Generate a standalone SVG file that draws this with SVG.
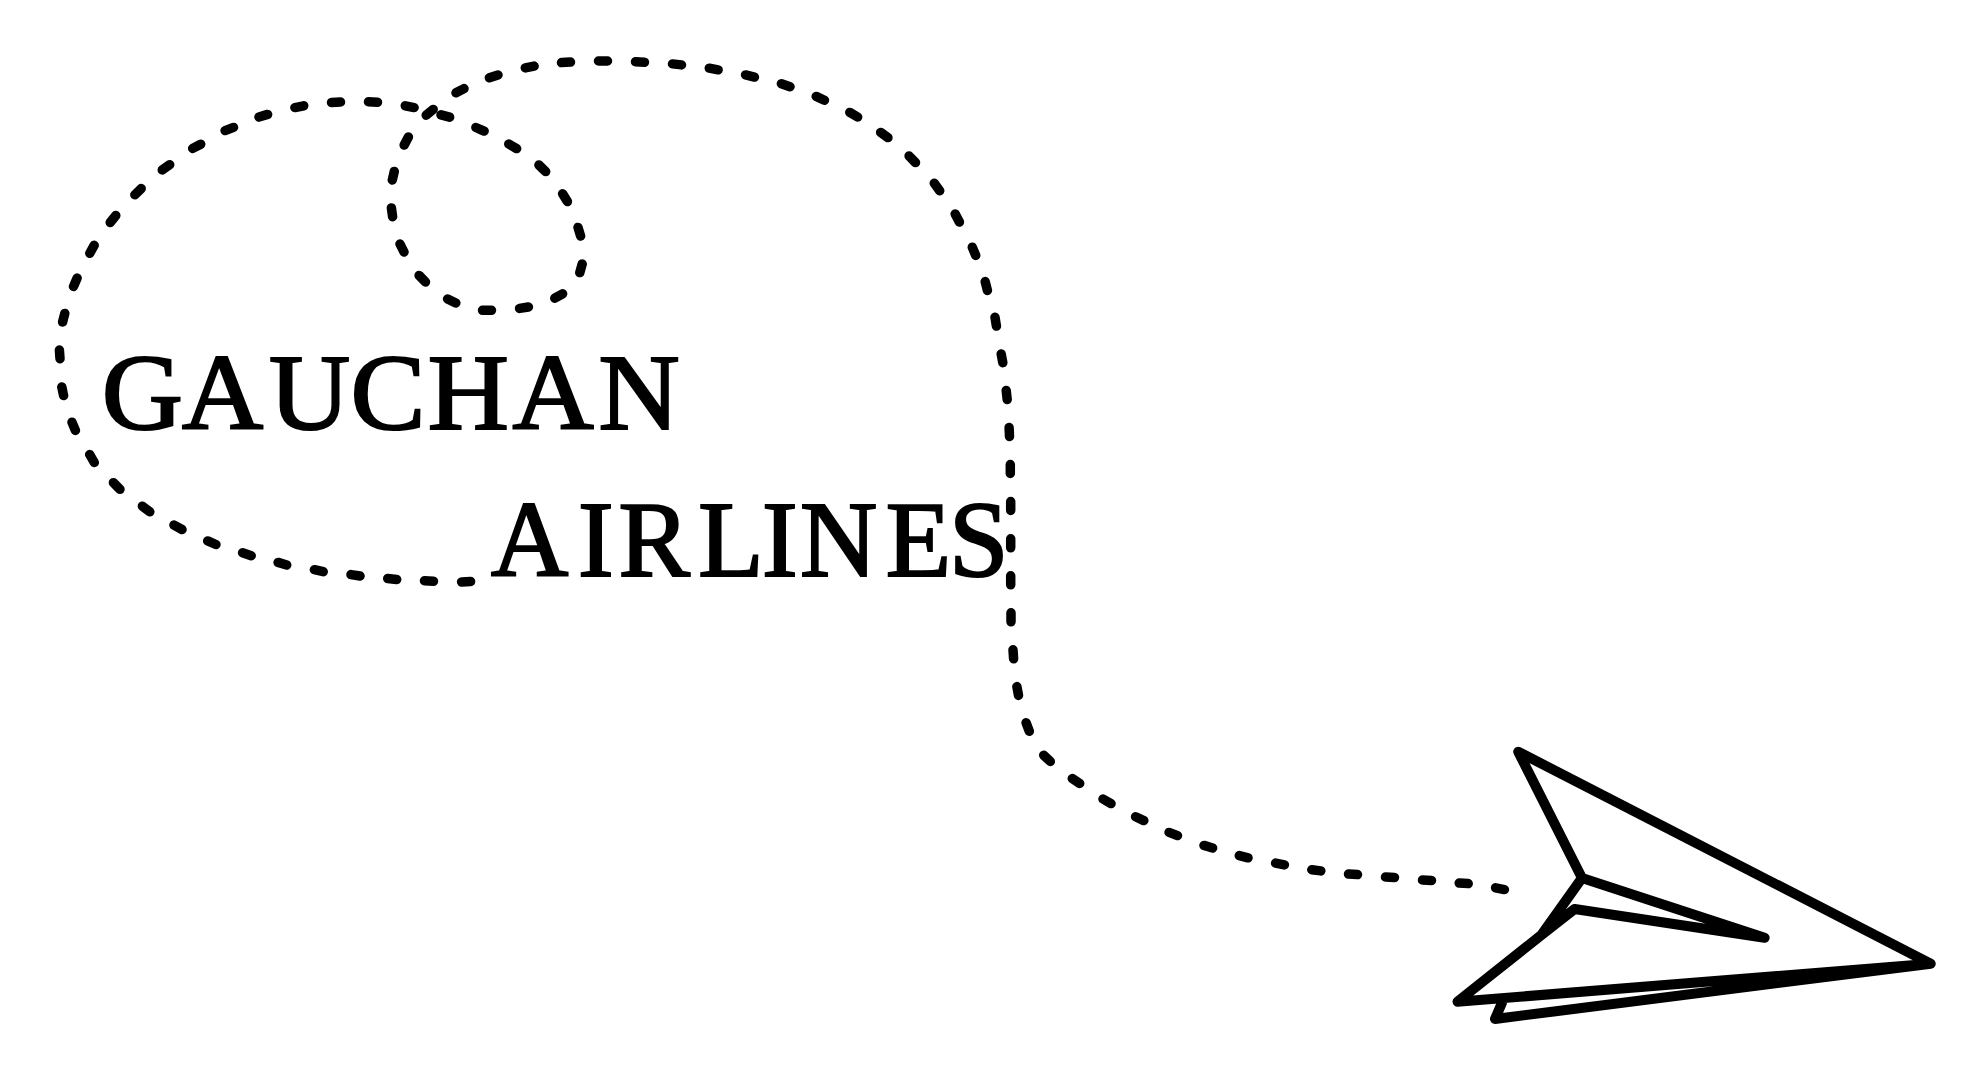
<svg xmlns="http://www.w3.org/2000/svg" width="1980" height="1080" viewBox="0 0 1980 1080">
<style>
.t{font-family:"Liberation Serif","Times New Roman",serif;font-size:107px;fill:#000;stroke:#000;stroke-width:2.2}
.d{fill:none;stroke:#000;stroke-width:9.5;stroke-linecap:round}
.p{fill:none;stroke:#000;stroke-width:10;stroke-linecap:round;stroke-linejoin:round}
</style>
<rect width="1980" height="1080" fill="#fff"/>
<g id="connectors">
<path class="d" d="M470.6 581.5L461.6 581.9M433.5 581.2L424.5 580.8M396.7 579.5L387.7 578.5M360 576L351 574.6M323.2 571.7L314.4 569.7M286.7 565L278.1 562.4M251.2 555.8L242.6 552.8M215.9 544.5L207.7 540.9M182 529.5L174 525.1M149.8 511.8L142.4 506.2M120 489.3L113.4 482.7M94.3 462.5L89.7 454.5M75.4 430.4L72 422.2M63.6 395.6L61.8 387M60 358.7L59.4 350M62.6 322L64.8 313.4M73.5 286.5L77.1 278.1M89.8 253.3L94.2 245.3M110.2 222.5L115.8 215.5M134.8 194.8L141.2 188.6M162.3 169.9L169.7 164.7M192.7 148.4L200.7 144.2M225.1 130.6L233.5 127.4M259 117L267.6 114.4M294.9 107.6L303.7 105.8M331.5 102.5L340.5 102.1M368.5 101.8L377.5 102.2M405.3 105.8L414.1 107.6M441 114.8L449.6 117.2M475.9 127.5L484.1 131.1M508.8 144L516.6 148.6M538.9 165L545.7 171.6M562.6 193.8L567.4 201.6M578 227.4L580.6 236M582.2 264L579.8 272.6M562.6 293.8L554.8 298.2M528.4 307L519.6 308.4M491.5 310.3L482.5 310.3M455.8 303L447.6 299M425.5 282L419.1 275.4M404 252L400 244M392.6 216.7L391.4 207.9M392.3 180L394.3 171.4M404.2 145L408.4 137M426.2 115.2L433.2 109.4M456 92.8L464 88.6M489.4 77.7L498 74.9M525.3 67.9L534.1 66.1M561.5 62.6L570.5 62M598.5 61L607.5 61M635.5 61.8L644.5 62.2M672.5 63.9L681.5 64.9M709.3 68.2L718.1 69.8M745.6 74.9L754.4 77.1M781.4 83.8L790 86.8M816.2 96.4L824.4 100.2M849.8 112.4L857.6 117M880.7 132.4L887.9 137.6M909.1 156L915.5 162.6M934.3 183.3L939.7 190.7M955.2 214L959.4 222M972.3 247.2L975.7 255.4M985.2 281.6L987.4 290.4M995 317.3L996.4 326.1M1001.2 354L1002.8 362.7M1006.2 390.5L1007.2 399.5M1009.1 427.5L1009.5 436.5M1010.3 464.5L1010.3 473.5M1010.7 501.5L1010.7 510.5M1010.7 538.8L1010.7 547.8M1010.7 575.8L1010.7 584.8M1011 612.8L1011 621.8M1013 649.8L1013.6 658.8M1016.9 686.6L1018.5 695.4M1026.1 722.8L1029.3 731.2M1043.7 755.2L1050.3 761.4M1072.3 778.6L1079.7 783.4M1103 799L1111 803.6M1135.6 816.8L1143.8 820.6M1169.1 832.4L1177.5 835.6M1204 845.4L1212.6 848M1239.3 855.6L1248 857.8M1275.6 863.1L1284.4 864.9M1311.8 869.7L1320.8 870.9M1348.5 874L1357.5 874.6M1385.5 877.1L1394.5 877.5M1422.5 880.1L1431.5 880.5M1459.2 883L1468.2 883.6M1495.6 887.8L1504.4 889.6"/>
</g>
<g id="title-gauchan">
<text class="t" transform="scale(1.05 1)" y="429.3" x="97 173.4 256.3 333.7 407.4 488.2 570">GAUCHAN</text>
</g>
<g id="title-airlines">
<text class="t" y="575.7" x="491 578 618.5 698.3 762 800 885.7 949">AIRLINES</text>
</g>
<g id="paper-plane">
<path class="p" d="M1582 878L1518.2 751.7L1930.7 963.7L1457.5 1001.7L1541.4 935L1582 878L1764.6 937.7L1574.6 909L1541.4 935M1502 1002.7L1495 1019L1930.7 963.7"/>
</g>
</svg>
